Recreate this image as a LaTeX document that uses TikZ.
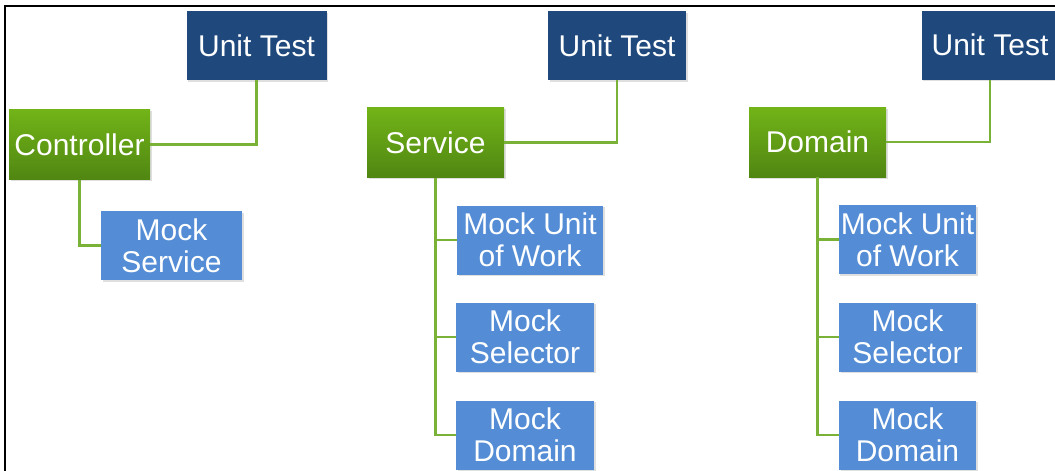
\documentclass[tikz,border=0pt]{standalone}
\usepackage{fontspec}
\setmainfont{Liberation Sans}
\usetikzlibrary{shadows}
\definecolor{testblue}{RGB}{31,73,125}
\definecolor{mockblue}{RGB}{84,141,213}
\definecolor{layertop}{RGB}{114,180,24}
\definecolor{layerbot}{RGB}{80,134,18}
\definecolor{linkgreen}{RGB}{122,178,56}
\begin{document}
\begin{tikzpicture}[x=1pt, y=-1pt,
    boxbase/.style={rectangle, text=white, align=center, inner xsep=2pt, inner ysep=2pt,
        font=\fontsize{30}{32}\selectfont,
        drop shadow={shadow xshift=1.5pt, shadow yshift=-1.5pt, opacity=0.25}},
    testbox/.style={boxbase, fill=testblue, minimum width=140pt, minimum height=69pt},
    layerbox/.style={boxbase, top color=layertop, bottom color=layerbot, minimum width=138pt, minimum height=70pt},
    mockbox/.style={boxbase, fill=mockblue, minimum width=138pt, minimum height=69pt},
    link/.style={draw=linkgreen, line width=2.5pt}]
    \useasboundingbox (0,0) rectangle (1055,471);
    
    % Frame
    \draw[line width=1.6pt] (5,471) -- (5,6) -- (1056,6);
    
    % Controller column
    \node[testbox] (ut1) at (256.5,45.5) {Unit Test};
    \node[layerbox, minimum width=141pt] (ctrl) at (79.5,144.5) {Controller};
    \node[mockbox, minimum width=141pt] (msvc) at (171.5,245.5) {Mock\\Service};
    \draw[link] (ctrl.east) -| (ut1.south);
    \draw[link] (ctrl.south) |- (msvc.west);
    
    % Service column
    \node[testbox, minimum width=138pt] (ut2) at (617,45.5) {Unit Test};
    \node[layerbox, minimum width=137pt] (svc) at (435.5,142.5) {Service};
    \node[mockbox, minimum width=146pt] (muow2) at (530,240) {Mock Unit\\of Work};
    \node[mockbox] (msel2) at (525,337) {Mock\\Selector};
    \node[mockbox] (mdom2) at (525,435) {Mock\\Domain};
    \draw[link] (svc.east) -| (ut2.south);
    \draw[link] (svc.south) |- (mdom2.west);
    \draw[link] (svc.south) |- (muow2.west);
    \draw[link] (svc.south) |- (msel2.west);
    
    % Domain column
    \node[testbox, minimum width=137pt] (ut3) at (990,45) {Unit Test};
    \node[layerbox, minimum width=137pt] (dom) at (817.5,142) {Domain};
    \node[mockbox, minimum width=137pt] (muow3) at (907.5,239.5) {Mock Unit\\of Work};
    \node[mockbox, minimum width=137pt] (msel3) at (907.5,337) {Mock\\Selector};
    \node[mockbox, minimum width=137pt] (mdom3) at (907.5,435) {Mock\\Domain};
    \draw[link] (dom.east) -| (ut3.south);
    \draw[link] (dom.south) |- (mdom3.west);
    \draw[link] (dom.south) |- (muow3.west);
    \draw[link] (dom.south) |- (msel3.west);
\end{tikzpicture}
\end{document}
